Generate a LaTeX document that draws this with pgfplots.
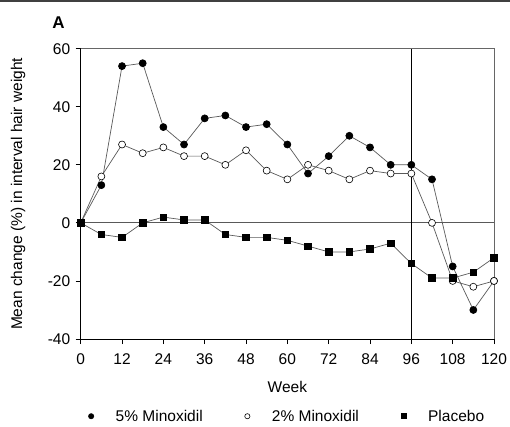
\documentclass[border=0pt]{standalone}
\usepackage{pgfplots}
\pgfplotsset{compat=1.18}
\usepackage{fontspec}
\setmainfont{Liberation Sans}

\pgfplotstableread{
week five two placebo
0    0    0    0
6    13   16   -4
12   54   27   -5
18   55   24   0
24   33   26   2
30   27   23   1
36   36   23   1
42   37   20   -4
48   33   25   -5
54   34   18   -5
60   27   15   -6
66   17   20   -8
72   23   18   -10
78   30   15   -10
84   26   18   -9
90   20   17   -7
96   20   17   -14
102  15   0    -19
108  -15  -20  -19
114  -30  -22  -17
120  -20  -20  -12
}\data

\begin{document}
\begin{tikzpicture}[x=1pt,y=1pt,font=\fontsize{15.5}{18}\selectfont]
\path[use as bounding box] (0,0) rectangle (510,426);
\draw[line width=1.5pt, black!75] (0,425) -- (510,425);
\node[font=\fontsize{17}{19}\selectfont\bfseries] at (58.5,403.5) {A};
\begin{axis}[
  at={(80.7pt,87pt)}, anchor=south west,
  scale only axis, width=413.3pt, height=290.3pt,
  xmin=0, xmax=120, ymin=-40, ymax=60,
  xtick={0,12,...,120}, ytick={-40,-20,...,60},
  axis lines*=left,
  axis line style={line width=0.8pt},
  tick align=outside, major tick length=5pt,
  tick style={line width=0.8pt, black},
  /pgf/number format/assume math mode=true,
  tick label style={font=\fontsize{15.5}{18}\selectfont},
  xticklabel style={yshift=-6pt},
  yticklabel style={xshift=-2pt},
  clip=false,
  xlabel={Week}, ylabel={Mean change (\%) in interval hair weight},
  every axis x label/.style={at={(axis description cs:0.5,-0.1653)}, anchor=center},
  every axis y label/.style={at={(axis description cs:-0.1517,0.5)}, rotate=90, anchor=center},
  legend columns=3,
  legend style={draw=none, fill=none, at={(axis description cs:0.5,-0.266)}, anchor=center,
    font=\fontsize{15.5}{18}\selectfont,
    /tikz/every odd column/.append style={column sep=20pt},
    /tikz/every even column/.append style={column sep=40pt}},
  legend image code/.code={\draw[#1, mark size=2.6pt] plot[only marks] coordinates {(0.3cm,0cm)};},
]
\draw[black!60, line width=0.8pt] (axis cs:0,60) -- (axis cs:120,60) -- (axis cs:120,-40);
\draw[black!65, line width=0.8pt] (axis cs:0,0) -- (axis cs:120,0);
\draw[black, line width=0.8pt] (axis cs:96,-40) -- (axis cs:96,60);
\addplot[black!65, line width=0.7pt, mark=*, mark size=3.5pt, mark options={draw=black, fill=black, solid}] table[x=week,y=five] {\data};
\addlegendentry{5\% Minoxidil}
\addplot[black!65, line width=0.7pt, mark=*, mark size=3.5pt, mark options={draw=black, fill=white, solid, line width=0.6pt}] table[x=week,y=two] {\data};
\addlegendentry{2\% Minoxidil}
\addplot[black!65, line width=0.7pt, mark=square*, mark size=3.2pt, mark options={draw=black, fill=black, solid}] table[x=week,y=placebo] {\data};
\addlegendentry{Placebo}
\end{axis}
\end{tikzpicture}
\end{document}
